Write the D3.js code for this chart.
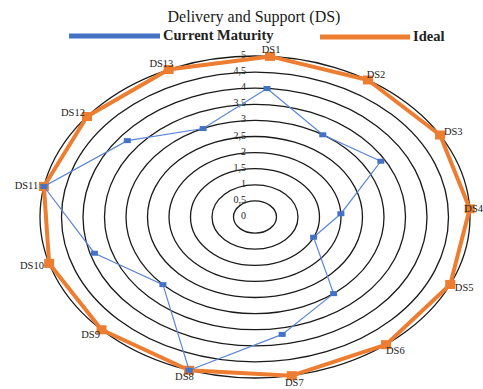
<!DOCTYPE html>
<html>
<head>
<meta charset="utf-8">
<script src="https://cdn.jsdelivr.net/npm/d3@7"></script>
<style>
  body { margin: 0; background: #fff; }
  text { font-family: "Liberation Serif", "Times New Roman", serif; }
</style>
</head>
<body>
<svg id="chart" width="483" height="389"></svg>
<script>
// Process areas of the "Delivery and Support" domain
const categories = ["DS1", "DS2", "DS3", "DS4", "DS5", "DS6", "DS7",
                    "DS8", "DS9", "DS10", "DS11", "DS12", "DS13"];
// Maturity levels per process
const currentMaturity = [4, 3, 3.4, 2, 1.5, 3, 3.7, 5, 3, 3.9, 5, 3.8, 3];
const ideal = [5, 5, 5, 5, 5, 5, 5, 5, 5, 5, 5, 5, 5];
// Radial gridline values and their labels (decimal comma)
const ringValues = [0, 0.5, 1, 1.5, 2, 2.5, 3, 3.5, 4, 4.5, 5];
const ringLabels = ["0", "0,5", "1", "1,5", "2", "2,5", "3", "3,5", "4", "4,5", "5"];

const seriesNames = ["Current Maturity", "Ideal"];
const colors = { current: "#4472C4", currentLine: "#5B86D6", ideal: "#ED7D31" };

const svg = d3.select("#chart");

// Plot geometry: elliptical radar
const cx = 255, cy = 217, RX = 215, RY = 161;
const startDeg = 4;

const r = d3.scaleLinear().domain([0, 5]).range([0, 1]);
const angle = d3.scaleLinear()
  .domain([0, categories.length])
  .range([startDeg * Math.PI / 180, startDeg * Math.PI / 180 + 2 * Math.PI]);

function point(i, v) {
  const a = angle(i), k = r(v);
  return [cx + RX * k * Math.sin(a), cy - RY * k * Math.cos(a)];
}

// Title
svg.append("text")
  .attr("x", 254).attr("y", 22)
  .attr("text-anchor", "middle")
  .attr("font-size", 16)
  .attr("fill", "#1a1a1a")
  .text("Delivery and Support (DS)");

// Legend
const legend = [
  { name: seriesNames[0], color: colors.current, x1: 69, x2: 160, tx: 163, y: 36 },
  { name: seriesNames[1], color: colors.ideal, x1: 320, x2: 410, tx: 413, y: 37 }
];
const lg = svg.append("g");
lg.selectAll("line").data(legend).join("line")
  .attr("x1", d => d.x1).attr("x2", d => d.x2)
  .attr("y1", d => d.y).attr("y2", d => d.y)
  .attr("stroke", d => d.color).attr("stroke-width", 5);
lg.selectAll("text").data(legend).join("text")
  .attr("x", d => d.tx).attr("y", d => d.y + 4)
  .attr("font-size", 14.5).attr("font-weight", "bold")
  .attr("fill", "#222")
  .text(d => d.name);

// Gridline rings
svg.append("g").selectAll("ellipse")
  .data(ringValues.filter(v => v > 0)).join("ellipse")
  .attr("cx", cx).attr("cy", cy)
  .attr("rx", v => RX * r(v)).attr("ry", v => RY * r(v))
  .attr("fill", "none").attr("stroke", "#1a1a1a").attr("stroke-width", 1.3);

// Value labels along the first axis
svg.append("g").selectAll("text")
  .data(ringValues).join("text")
  .attr("x", cx - 9)
  .attr("y", v => cy - RY * r(v) + 2)
  .attr("text-anchor", "end")
  .attr("font-size", 10)
  .attr("fill", "#222")
  .text((v, i) => ringLabels[i]);

const line = d3.line().curve(d3.curveLinearClosed);

// Ideal series
svg.append("path")
  .attr("d", line(ideal.map((v, i) => point(i, v))))
  .attr("fill", "none").attr("stroke", colors.ideal)
  .attr("stroke-width", 4).attr("stroke-linejoin", "round");
svg.append("g").selectAll("rect")
  .data(ideal).join("rect")
  .attr("x", (v, i) => point(i, v)[0] - 5)
  .attr("y", (v, i) => point(i, v)[1] - 4.5)
  .attr("width", 10).attr("height", 9)
  .attr("fill", colors.ideal);

// Current maturity series
svg.append("path")
  .attr("d", line(currentMaturity.map((v, i) => point(i, v))))
  .attr("fill", "none").attr("stroke", colors.currentLine)
  .attr("stroke-width", 1.2);
svg.append("g").selectAll("rect")
  .data(currentMaturity).join("rect")
  .attr("x", (v, i) => point(i, v)[0] - 3.5)
  .attr("y", (v, i) => point(i, v)[1] - 2.5)
  .attr("width", 7).attr("height", 5)
  .attr("fill", colors.current);

// Category labels outside the outer ring
svg.append("g").selectAll("text")
  .data(categories).join("text")
  .each(function (name, i) {
    const a = angle(i);
    const [px, py] = point(i, 5);
    const t = d3.select(this)
      .attr("font-size", 10.5).attr("fill", "#222")
      .attr("text-anchor", "middle")
      .text(name);
    const w = this.getComputedTextLength();
    t.attr("x", Math.min(px + Math.sin(a) * (w / 2 + 6), 483 - w / 2))
     .attr("y", py - Math.cos(a) * 7 + 3.5);
  });
</script>
</body>
</html>
